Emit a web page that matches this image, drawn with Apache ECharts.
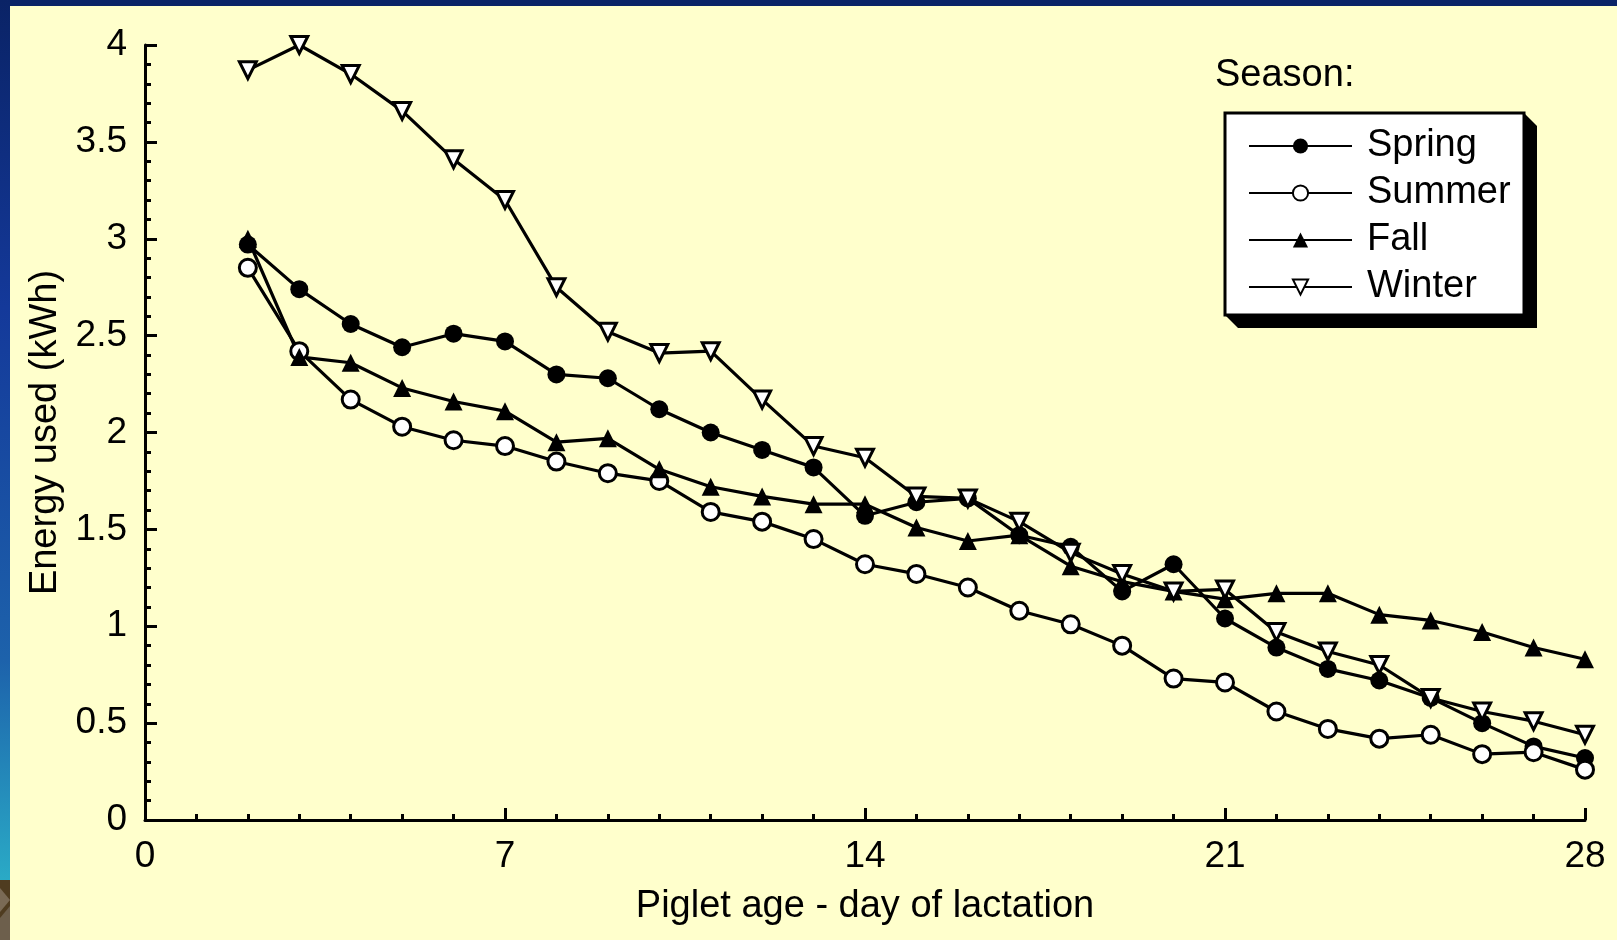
<!DOCTYPE html>
<html>
<head>
<meta charset="utf-8">
<script src="https://cdn.jsdelivr.net/npm/echarts@6/dist/echarts.min.js"></script>
<style>
  html, body { margin: 0; padding: 0; background: #ffffcc; }
  #energyChart { width: 1617px; height: 940px; }
</style>
</head>
<body>
<div id="energyChart"></div>
<script>
// piglet age, days 2..28
const days = [2, 3, 4, 5, 6, 7, 8, 9, 10, 11, 12, 13, 14, 15, 16, 17, 18, 19, 20, 21, 22, 23, 24, 25, 26, 27, 28];
const spring = [2.97, 2.74, 2.56, 2.44, 2.51, 2.47, 2.30, 2.28, 2.12, 2.00, 1.91, 1.82, 1.57, 1.64, 1.66, 1.47, 1.41, 1.18, 1.32, 1.04, 0.89, 0.78, 0.72, 0.63, 0.50, 0.38, 0.32];
const summer = [2.85, 2.42, 2.17, 2.03, 1.96, 1.93, 1.85, 1.79, 1.75, 1.59, 1.54, 1.45, 1.32, 1.27, 1.20, 1.08, 1.01, 0.90, 0.73, 0.71, 0.56, 0.47, 0.42, 0.44, 0.34, 0.35, 0.26];
const fall = [3.00, 2.39, 2.36, 2.23, 2.16, 2.11, 1.95, 1.97, 1.81, 1.72, 1.67, 1.63, 1.63, 1.51, 1.44, 1.47, 1.31, 1.23, 1.18, 1.14, 1.17, 1.17, 1.06, 1.03, 0.97, 0.89, 0.83];
const winter = [3.87, 4.00, 3.85, 3.66, 3.41, 3.20, 2.75, 2.52, 2.41, 2.42, 2.17, 1.93, 1.87, 1.67, 1.66, 1.54, 1.38, 1.27, 1.18, 1.19, 0.97, 0.87, 0.80, 0.63, 0.56, 0.51, 0.44];
const seasonNames = ['Spring', 'Summer', 'Fall', 'Winter'];

const FONT = "'Liberation Sans', Arial, sans-serif";

function pairs(vals) {
  return days.map((d, i) => [d, vals[i]]);
}

function seasonSeries(name, vals, symbol, fill, size) {
  return {
    name: name,
    type: 'line',
    data: pairs(vals),
    symbol: symbol,
    symbolSize: size,
    showAllSymbol: true,
    clip: false,
    lineStyle: { color: '#000', width: 3.2 },
    itemStyle: { color: fill, borderColor: '#000', borderWidth: fill === '#000' ? 0 : 3 },
    emphasis: { disabled: true },
    z: 3
  };
}

const chart = echarts.init(document.getElementById('energyChart'));

const axisBlack = { color: '#000', width: 3 };

chart.setOption({
  backgroundColor: '#ffffcc',
  animation: false,
  textStyle: { fontFamily: FONT },
  grid: { left: 145, right: 32, top: 45, bottom: 120 },
  xAxis: {
    type: 'value',
    min: 0,
    max: 28,
    interval: 7,
    name: 'Piglet age - day of lactation',
    nameLocation: 'middle',
    nameGap: 68,
    nameTextStyle: { fontSize: 38, color: '#000', fontFamily: FONT },
    axisLine: { show: true, lineStyle: axisBlack },
    axisTick: { show: true, inside: true, length: 12, lineStyle: axisBlack },
    minorTick: { show: true, splitNumber: 7, length: 6, lineStyle: axisBlack },
    axisLabel: { fontSize: 37, color: '#000', margin: 18, fontFamily: FONT },
    splitLine: { show: false }
  },
  yAxis: {
    type: 'value',
    min: 0,
    max: 4,
    interval: 0.5,
    name: 'Energy used (kWh)',
    nameLocation: 'middle',
    nameGap: 78,
    nameTextStyle: { fontSize: 38, color: '#000', fontFamily: FONT },
    axisLine: { show: true, lineStyle: axisBlack },
    axisTick: { show: true, inside: true, length: 12, lineStyle: axisBlack },
    minorTick: { show: true, splitNumber: 5, length: 6, lineStyle: axisBlack },
    axisLabel: { fontSize: 37, color: '#000', margin: 18, fontFamily: FONT },
    splitLine: { show: false }
  },
  legend: {
    data: seasonNames,
    orient: 'vertical',
    left: 1248,
    top: 124,
    padding: 0,
    itemWidth: 103,
    itemHeight: 19,
    itemGap: 3,
    selectedMode: false,
    textStyle: { fontSize: 38, color: '#000', fontFamily: FONT, lineHeight: 44, padding: [0, 0, 0, 10] }
  },
  graphic: [
    // slide frame
    { type: 'rect', shape: { x: 0, y: 0, width: 1617, height: 6 }, style: { fill: '#0a2366' }, silent: true },
    {
      type: 'rect', shape: { x: 0, y: 0, width: 10, height: 880 }, silent: true,
      style: {
        fill: new echarts.graphic.LinearGradient(0, 0, 0, 1, [
          { offset: 0, color: '#0a2366' },
          { offset: 0.35, color: '#14399a' },
          { offset: 0.75, color: '#1d62ab' },
          { offset: 1, color: '#2aaac6' }
        ])
      }
    },
    { type: 'rect', shape: { x: 0, y: 880, width: 10, height: 60 }, style: { fill: '#4f3c20' }, silent: true },
    { type: 'polygon', shape: { points: [[0, 888], [10, 900], [0, 912]] }, style: { fill: '#7a6a55' }, silent: true },
    { type: 'polygon', shape: { points: [[0, 918], [10, 906], [10, 940], [0, 940]] }, style: { fill: '#6d5f4c' }, silent: true },
    // legend box with shadow
    {
      type: 'polygon', silent: true,
      shape: { points: [[1524, 113], [1537, 126], [1537, 328], [1238, 328], [1225, 315]] },
      style: { fill: '#000' }
    },
    {
      type: 'rect', silent: true,
      shape: { x: 1225, y: 113, width: 299, height: 202 },
      style: { fill: '#fff', stroke: '#000', lineWidth: 3 }
    },
    {
      type: 'text', silent: true,
      style: { text: 'Season:', x: 1215, y: 76, verticalAlign: 'middle', fontSize: 38, fontFamily: FONT, fill: '#000' }
    }
  ],
  series: [
    seasonSeries('Spring', spring, 'circle', '#000', 18),
    seasonSeries('Summer', summer, 'circle', '#fff', 17),
    seasonSeries('Fall', fall, 'triangle', '#000', 18),
    seasonSeries('Winter', winter, 'path://M0,0L10,0L5,10Z', '#fff', 17)
  ]
});

window.addEventListener('resize', function () {
  chart.resize();
});
</script>
</body>
</html>
